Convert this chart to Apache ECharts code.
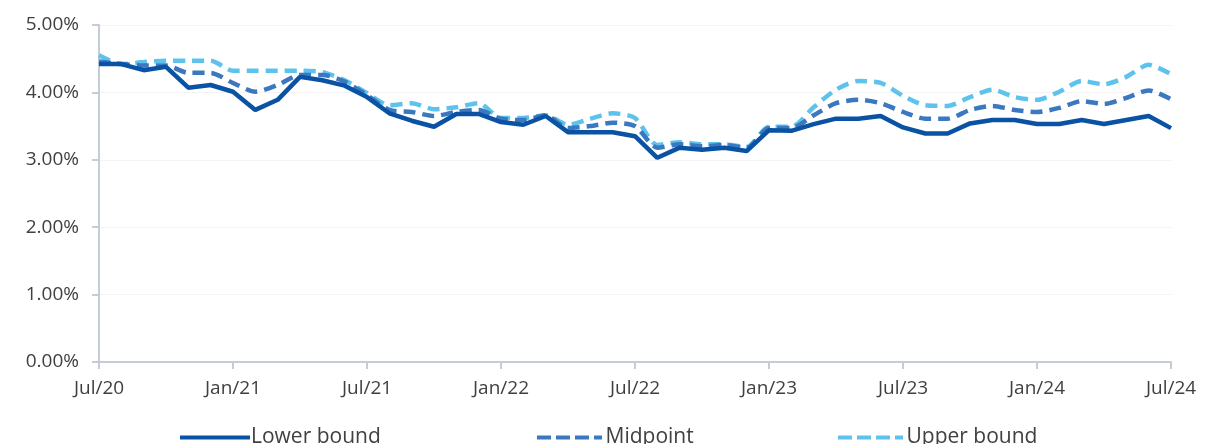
<!DOCTYPE html>
<html>
<head>
<meta charset="utf-8">
<script src="https://cdn.jsdelivr.net/npm/echarts@6/dist/echarts.min.js"></script>
<style>
  html, body { margin: 0; padding: 0; background: #fff; }
  #chart { width: 1207px; height: 444px; }
</style>
</head>
<body>
<div id="chart"></div>
<script>
const months = [
  'Jul/20', 'Aug/20', 'Sep/20', 'Oct/20', 'Nov/20', 'Dec/20',
  'Jan/21', 'Feb/21', 'Mar/21', 'Apr/21', 'May/21', 'Jun/21',
  'Jul/21', 'Aug/21', 'Sep/21', 'Oct/21', 'Nov/21', 'Dec/21',
  'Jan/22', 'Feb/22', 'Mar/22', 'Apr/22', 'May/22', 'Jun/22',
  'Jul/22', 'Aug/22', 'Sep/22', 'Oct/22', 'Nov/22', 'Dec/22',
  'Jan/23', 'Feb/23', 'Mar/23', 'Apr/23', 'May/23', 'Jun/23',
  'Jul/23', 'Aug/23', 'Sep/23', 'Oct/23', 'Nov/23', 'Dec/23',
  'Jan/24', 'Feb/24', 'Mar/24', 'Apr/24', 'May/24', 'Jun/24',
  'Jul/24',
]

const lowerBound = [
  4.42, 4.42, 4.33, 4.38, 4.07, 4.11, 4.01, 3.74, 3.89, 4.23, 4.18, 4.10,
  3.93, 3.69, 3.58, 3.49, 3.68, 3.68, 3.56, 3.52, 3.65, 3.41, 3.41, 3.41,
  3.35, 3.03, 3.18, 3.15, 3.18, 3.13, 3.44, 3.43, 3.53, 3.61, 3.61, 3.65,
  3.48, 3.39, 3.39, 3.54, 3.59, 3.59, 3.53, 3.53, 3.59, 3.53, 3.59, 3.65,
  3.47,
]

const midpoint = [
  4.46, 4.42, 4.40, 4.40, 4.29, 4.29, 4.14, 4.01, 4.11, 4.26, 4.26, 4.16,
  3.96, 3.74, 3.71, 3.65, 3.71, 3.74, 3.61, 3.59, 3.66, 3.47, 3.50, 3.55,
  3.50, 3.18, 3.23, 3.20, 3.22, 3.18, 3.47, 3.47, 3.66, 3.84, 3.89, 3.84,
  3.71, 3.61, 3.61, 3.74, 3.80, 3.74, 3.71, 3.77, 3.87, 3.83, 3.92, 4.03,
  3.90,
]

const upperBound = [
  4.55, 4.42, 4.45, 4.47, 4.47, 4.47, 4.32, 4.32, 4.32, 4.32, 4.30, 4.18,
  3.99, 3.81, 3.84, 3.75, 3.78, 3.84, 3.62, 3.62, 3.66, 3.52, 3.61, 3.69,
  3.62, 3.22, 3.26, 3.23, 3.23, 3.19, 3.49, 3.49, 3.78, 4.04, 4.17, 4.14,
  3.95, 3.81, 3.80, 3.93, 4.04, 3.93, 3.89, 4.01, 4.17, 4.12, 4.23, 4.41,
  4.27,
]

const seriesNames = ['Lower bound', 'Midpoint', 'Upper bound']
const seriesColors = ['#0a52a3', '#3b78bf', '#5ec3ec']

const textColor = '#404040'
const axisColor = '#c5ccd8'
const fontFamily = '"Open Sans", Lato, sans-serif'

// legend swatches: solid bar, and dashes ending in a short dot
const solidIcon = 'path://M0,0H70V4H0Z'
const dashIcon = 'path://M0,0H14V4H0Z M19,0H33V4H19Z M38,0H52V4H38Z M57,0H65V4H57Z'

const legendLeft = [175, 532, 833]

const chart = echarts.init(document.getElementById('chart'))

chart.setOption({
  animation: false,
  color: seriesColors,
  textStyle: { fontFamily },
  grid: {
    left: 99,
    right: 36,
    top: 25,
    bottom: 82,
  },
  legend: seriesNames.map((name, i) => ({
    left: legendLeft[i],
    top: 422,
    itemWidth: 70,
    itemHeight: 4,
    textStyle: {
      color: textColor,
      fontSize: 21,
      fontFamily,
      padding: [0, 0, 0, -4],
    },
    data: [{ name, icon: i === 0 ? solidIcon : dashIcon }],
  })),
  xAxis: {
    type: 'category',
    data: months,
    boundaryGap: false,
    axisLine: { lineStyle: { color: axisColor, width: 2 } },
    axisTick: {
      interval: 5,
      length: 7,
      lineStyle: { color: axisColor, width: 2 },
    },
    axisLabel: {
      interval: 5,
      color: textColor,
      fontSize: 19,
      margin: 17,
    },
    splitLine: { show: false },
  },
  yAxis: {
    type: 'value',
    min: 0,
    max: 5,
    interval: 1,
    axisLine: { show: true, lineStyle: { color: axisColor, width: 2 } },
    axisTick: {
      show: true,
      length: 7,
      lineStyle: { color: axisColor, width: 2 },
    },
    axisLabel: {
      color: textColor,
      fontSize: 19,
      margin: 20,
      formatter: (v) => v.toFixed(2) + '%',
    },
    splitLine: { lineStyle: { color: '#f3f3f3', width: 1 } },
  },
  series: [
    {
      name: seriesNames[0],
      type: 'line',
      data: lowerBound,
      symbol: 'none',
      lineStyle: { width: 4.5, color: seriesColors[0] },
      z: 3,
    },
    {
      name: seriesNames[1],
      type: 'line',
      data: midpoint,
      symbol: 'none',
      smooth: 0.25,
      lineStyle: { width: 4.5, color: seriesColors[1], type: [12, 7] },
      z: 2,
    },
    {
      name: seriesNames[2],
      type: 'line',
      data: upperBound,
      symbol: 'none',
      smooth: 0.25,
      lineStyle: { width: 4.5, color: seriesColors[2], type: [12, 7] },
      z: 1,
    },
  ],
})
</script>
</body>
</html>
